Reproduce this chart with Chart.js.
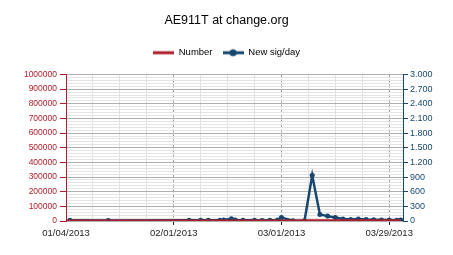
<!DOCTYPE html>
<html>
<head>
<meta charset="utf-8">
<script src="https://cdn.jsdelivr.net/npm/chart.js@4.4.0/dist/chart.umd.min.js"></script>
<style>
    html, body { margin: 0; padding: 0; background: #fff; }
    #wrap { width: 453px; height: 255px; }
</style>
</head>
<body>
<div id="wrap"><canvas id="signature-chart"></canvas></div>
<script>
// start of the x axis, every date is counted in days from here
const startDate = '2013-01-04';

// cumulative signatures (left axis)
const numberDates = ['2013-01-04', '2013-01-05', '2013-01-15', '2013-02-05', '2013-02-16', '2013-03-01',
    '2013-03-09', '2013-03-15', '2013-03-21', '2013-03-27', '2013-04-01'];
const numberValues = [0, 10, 60, 120, 250, 480, 1450, 1900, 2150, 2330, 2420];

// new signatures per day (right axis)
const sigDates = ['2013-01-05', '2013-01-15', '2013-02-05', '2013-02-08', '2013-02-10', '2013-02-13',
    '2013-02-14', '2013-02-16', '2013-02-17', '2013-02-19', '2013-02-22', '2013-02-24', '2013-02-26',
    '2013-02-28', '2013-03-01', '2013-03-04', '2013-03-07', '2013-03-09', '2013-03-11', '2013-03-13',
    '2013-03-15', '2013-03-17', '2013-03-19', '2013-03-21', '2013-03-23', '2013-03-25', '2013-03-27',
    '2013-03-29', '2013-03-31', '2013-04-01'];
const sigValues = [15, 10, 15, 15, 15, 15, 20, 45, 20, 15, 15, 10, 15, 20, 70, 5, 5, 935, 135, 100,
    70, 40, 30, 40, 30, 25, 20, 20, 15, 20];

const leftTicks = [0, 100000, 200000, 300000, 400000, 500000, 600000, 700000, 800000, 900000, 1000000];
const rightTicks = [0, 300, 600, 900, 1200, 1500, 1800, 2100, 2400, 2700, 3000];
const xTickDays = [0, 28, 56, 84];

const red = '#ad1f2c';
const blue = '#17476f';
const font = "'Liberation Sans', Arial, sans-serif";

function dayOf(date) {
    return (Date.parse(date) - Date.parse(startDate)) / 86400000;
}

function toPoints(dates, values) {
    return dates.map((d, i) => ({x: dayOf(d), y: values[i]}));
}

function formatDay(day) {
    const d = new Date(Date.parse(startDate) + day * 86400000);
    const mm = String(d.getUTCMonth() + 1).padStart(2, '0');
    const dd = String(d.getUTCDate()).padStart(2, '0');
    return `${mm}/${dd}/${d.getUTCFullYear()}`;
}

function makeLegendIcon(color, withDot) {
    const c = document.createElement('canvas');
    c.width = 21;
    c.height = 10;
    const ctx = c.getContext('2d');
    ctx.strokeStyle = color;
    ctx.lineWidth = 3;
    ctx.beginPath();
    ctx.moveTo(0, 5);
    ctx.lineTo(21, 5);
    ctx.stroke();
    if (withDot) {
        ctx.fillStyle = color;
        ctx.beginPath();
        ctx.arc(10.5, 5, 3.5, 0, Math.PI * 2);
        ctx.fill();
    }
    return c;
}

const isMajorDay = (ctx) => ctx.tick && xTickDays.includes(ctx.tick.value);
const isMajorLeft = (ctx) => ctx.tick && leftTicks.includes(ctx.tick.value);

// a bit more room between the legend and the plot
const legendGap = {
    id: 'legendGap',
    afterInit(chart) {
        const legend = chart.legend;
        const fit = legend.fit;
        legend.fit = function () {
            fit.call(this);
            this.height += 7;
        };
    }
};

const chartElem = document.getElementById('signature-chart');
new Chart(chartElem, {
    type: 'line',
    plugins: [legendGap],
    data: {
        datasets: [
            {
                label: 'Number',
                data: toPoints(numberDates, numberValues),
                yAxisID: 'y',
                borderColor: red,
                backgroundColor: red,
                borderWidth: 3,
                pointRadius: 0,
                order: 1
            },
            {
                label: 'New sig/day',
                data: toPoints(sigDates, sigValues),
                yAxisID: 'y1',
                borderColor: blue,
                backgroundColor: blue,
                borderWidth: 2.5,
                pointRadius: 2.5,
                pointBackgroundColor: blue,
                pointBorderWidth: 0,
                pointStyle: 'circle',
                order: 2
            }
        ]
    },
    options: {
        animation: false,
        responsive: true,
        maintainAspectRatio: false,
        plugins: {
            title: {
                display: true,
                text: 'AE911T at change.org',
                color: '#000',
                font: {family: font, size: 12.5, weight: 'normal'},
                padding: {top: 13, bottom: 10}
            },
            legend: {
                display: true,
                position: 'top',
                labels: {
                    color: '#000',
                    font: {family: font, size: 9.5},
                    usePointStyle: true,
                    pointStyleWidth: 21,
                    boxHeight: 10,
                    padding: 10,
                    generateLabels: function (chart) {
                        return chart.data.datasets.map((ds, i) => ({
                            text: ds.label,
                            fontColor: '#000',
                            pointStyle: makeLegendIcon(ds.borderColor, i === 1),
                            strokeStyle: ds.borderColor,
                            fillStyle: ds.borderColor,
                            lineWidth: 0,
                            datasetIndex: i
                        }));
                    }
                }
            },
            tooltip: {enabled: false}
        },
        scales: {
            x: {
                type: 'linear',
                min: 0,
                max: 87.6,
                afterFit: (scale) => { scale.height = 34; },
                ticks: {
                    stepSize: 7,
                    includeBounds: false,
                    autoSkip: false,
                    maxRotation: 0,
                    color: '#222',
                    padding: 3,
                    font: {family: font, size: 9.5},
                    callback: (v) => xTickDays.includes(v) ? formatDay(v) : ''
                },
                grid: {
                    color: (ctx) => isMajorDay(ctx) ? '#9a9a9a' : '#e0e0e0',
                    tickColor: (ctx) => isMajorDay(ctx) && ctx.tick.value > 0 ? '#222' : 'transparent',
                    tickLength: 4,
                    lineWidth: 1
                },
                border: {
                    display: false,
                    dash: (ctx) => isMajorDay(ctx) && ctx.tick.value > 0 ? [3, 2] : []
                }
            },
            y: {
                position: 'left',
                min: 0,
                max: 1000000,
                afterFit: (scale) => { scale.width = 66; },
                ticks: {
                    stepSize: 20000,
                    autoSkip: false,
                    color: red,
                    padding: 3,
                    font: {family: font, size: 8.5},
                    callback: (v) => leftTicks.includes(v) ? String(v) : ''
                },
                grid: {
                    color: (ctx) => isMajorLeft(ctx) ? '#b0b0b0' : '#e4e4e4',
                    tickColor: (ctx) => isMajorLeft(ctx) ? red : 'transparent',
                    tickLength: 6
                },
                border: {display: true, color: red, width: 1}
            },
            y1: {
                position: 'right',
                min: 0,
                max: 3000,
                afterFit: (scale) => { scale.width = 50; },
                ticks: {
                    stepSize: 300,
                    autoSkip: false,
                    color: blue,
                    padding: 2,
                    font: {family: font, size: 9},
                    callback: (v) => rightTicks.includes(v) ? v.toLocaleString('de-DE') : ''
                },
                grid: {
                    drawOnChartArea: false,
                    tickColor: blue,
                    tickLength: 5
                },
                border: {display: true, color: blue, width: 1}
            }
        }
    }
});
</script>
</body>
</html>
